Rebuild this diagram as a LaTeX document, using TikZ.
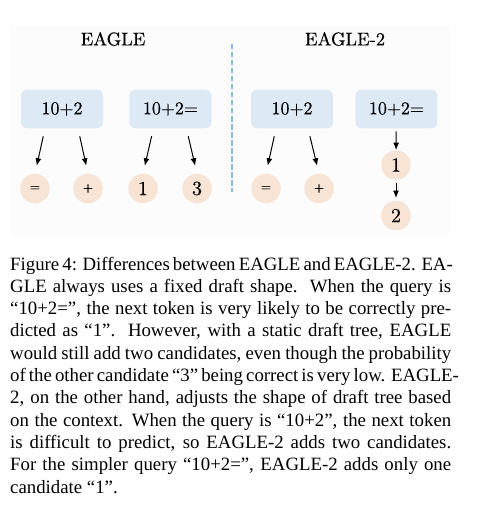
\documentclass[tikz,border=0pt]{standalone}
\usepackage{fontspec}
\newfontfamily\capfont{Liberation Serif}
\newfontfamily\figfont[FakeBold=0.35]{lmroman10-regular.otf}
\usetikzlibrary{positioning,arrows.meta}

\definecolor{qblue}{HTML}{DEE9F6}
\definecolor{tokpeach}{HTML}{F8E4D5}
\definecolor{sepblue}{HTML}{8CB8E8}
\definecolor{panel}{HTML}{FCFCFC}

\newcommand{\lowtok}[1]{\raisebox{-4.5pt}{#1}}
\newcommand{\capline}[1]{\makebox[441pt][s]{#1}\par}

\begin{document}
\begin{tikzpicture}[x=1pt, y=-1pt, >={Latex[length=7.5pt,width=6pt]}]
        \tikzstyle{query}=[fill=qblue, rounded corners=6pt, minimum width=82pt, minimum height=38.5pt, font=\figfont\fontsize{18}{20}\selectfont]
        \tikzstyle{tok}=[circle, fill=tokpeach, minimum size=29.5pt, inner sep=0pt, font=\figfont\fontsize{20}{22}\selectfont]
        \tikzstyle{op}=[tok, font=\figfont\fontsize{13}{15}\selectfont]
        \tikzstyle{title}=[font=\figfont\fontsize{18.5}{20}\selectfont]
        \tikzstyle{pick}=[->, line width=1pt, shorten <=8pt, shorten >=8pt]
        
        \useasboundingbox (0,0) rectangle (499,508);
        \fill[panel] (10,25) rectangle (450,235);
        
        \node (t1) [title] at (113,39) {EAGLE};
        \node (t2) [title] at (345,39) {EAGLE-2};
        
        \coordinate (s1) at (232,44);
        \coordinate (s2) at (232,192);
        \draw[sepblue, line width=1.5pt, dash pattern=on 5.5pt off 2.5pt] (s1) -- (s2);
        
        \node (e1) [query] at (62,109) {10+2};
        \node (e2) [query, right=26pt of e1] {10+2=};
        \node (f1) [query] at (292,109) {10+2};
        \node (f2) [query, right=22pt of f1] {10+2=};
        
        \node (e1 1) [op] at (35,188.5) {\lowtok{=}};
        \node (e1 2) [op] at (88,188.5) {\lowtok{+}};
        \node (e2 1) [tok] at (143,188.5) {1};
        \node (e2 2) [tok] at (197,188.5) {3};
        \node (f1 1) [op] at (266,188.5) {\lowtok{=}};
        \node (f1 2) [op] at (319,188.5) {\lowtok{+}};
        \node (f2 1) [tok] at (396,165) {1};
        \node (f2 2) [tok] at (396,215.5) {2};
        
        \draw[pick] ([xshift=-17pt]e1.south) -- (e1 1.north);
        \draw[pick] ([xshift=16pt]e1.south) -- (e1 2.north);
        \draw[pick] ([xshift=-17pt]e2.south) -- (e2 1.north);
        \draw[pick] ([xshift=16pt]e2.south) -- (e2 2.north);
        \draw[pick] ([xshift=-16pt]f1.south) -- (f1 1.north);
        \draw[pick] ([xshift=16pt]f1.south) -- (f1 2.north);
        \draw[pick, shorten <=3pt, shorten >=0pt] (f2) -- (f2 1);
        \draw[pick, shorten <=3.5pt, shorten >=2.5pt] (f2 1) -- (f2 2);
        
        \node (cap) [anchor=base west, inner sep=0pt] at (10,270) {\parbox[t]{441pt}{\capfont\fontsize{18.8}{22.33}\selectfont
            \capline{Figure 4: Differences between EAGLE and EAGLE-2. EA-}
            \capline{GLE always uses a fixed draft shape.\ \ When the query is}
            \capline{“10+2=”, the next token is very likely to be correctly pre-}
            \capline{dicted as “1”.\ \ However, with a static draft tree, EAGLE}
            \capline{would still add two candidates, even though the probability}
            \capline{of the other candidate “3” being correct is very low. EAGLE-}
            \capline{2, on the other hand, adjusts the shape of draft tree based}
            \capline{on the context. When the query is “10+2”, the next token}
            \capline{is difficult to predict, so EAGLE-2 adds two candidates.}
            \capline{For the simpler query “10+2=”, EAGLE-2 adds only one}
            candidate “1”.}};
        
    \end{tikzpicture}
\end{document}
